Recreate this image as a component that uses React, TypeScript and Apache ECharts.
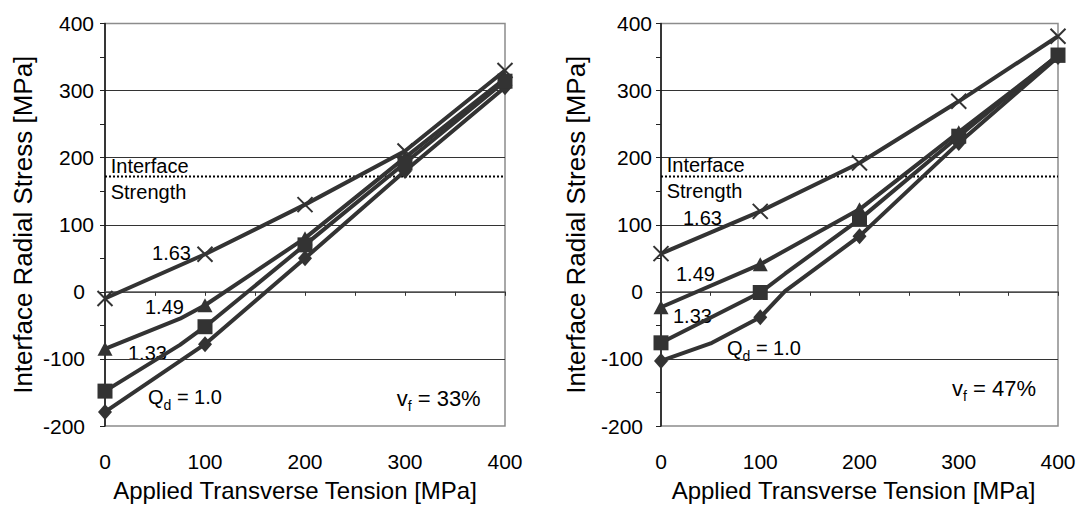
import React, { useEffect, useRef } from "react";
import * as echarts from "echarts";

// ---- data ----
const INTERFACE_STRENGTH = 172;
const X_MIN = 0;
const X_MAX = 400;
const Y_MIN = -200;
const Y_MAX = 400;

// vf = 33 %
const left_Q100: number[][] = [[0, -179], [100, -78], [200, 50], [300, 180], [400, 305]];
const left_Q133: number[][] = [[0, -148], [75, -79], [100, -52], [200, 70], [300, 192], [400, 314]];
const left_Q149: number[][] = [[0, -85], [75, -40], [100, -20], [200, 80], [300, 200], [400, 318]];
const left_Q163: number[][] = [[0, -10], [100, 56], [200, 130], [300, 210], [400, 330]];

// vf = 47 %
const right_Q100: number[][] = [[0, -103], [50, -77], [100, -38], [125, 1], [200, 83], [300, 222], [400, 350]];
const right_Q133: number[][] = [[0, -76], [100, -1], [125, 27], [200, 108], [300, 232], [400, 353]];
const right_Q149: number[][] = [[0, -23], [100, 41], [200, 123], [300, 238], [400, 352]];
const right_Q163: number[][] = [[0, 57], [100, 120], [200, 192], [300, 284], [400, 381]];

const X_TITLE = "Applied Transverse Tension [MPa]";
const Y_TITLE = "Interface Radial Stress [MPa]";

const FONT = "'Liberation Sans', Arial, sans-serif";
const INK = "#333333";

const CROSS = "path://M0,0L14,14M14,0L0,14";

function lineSeries(data: number[][], g: number, symbol: string, size: any, z: number) {
  return {
    type: "line",
    xAxisIndex: g * 2,
    yAxisIndex: g,
    data: data.map((p) => (p[0] % 100 === 0 ? p : { value: p, symbol: "none" })),
    symbol,
    symbolSize: size,
    lineStyle: { color: INK, width: 4 },
    itemStyle: symbol === CROSS
      ? { color: INK, borderColor: INK, borderWidth: 2 }
      : { color: INK },
    z,
    silent: true,
  };
}

function strengthSeries(g: number) {
  return {
    type: "line",
    xAxisIndex: g * 2,
    yAxisIndex: g,
    data: [[X_MIN, INTERFACE_STRENGTH], [X_MAX, INTERFACE_STRENGTH]],
    symbol: "none",
    lineStyle: { color: "#000", width: 2, type: "dotted" },
    z: 1,
    silent: true,
  };
}

function xAxes(g: number, titlePad: number) {
  return [
    {
      type: "value",
      gridIndex: g,
      min: X_MIN,
      max: X_MAX,
      interval: 100,
      position: "bottom",
      axisLine: { show: false, onZero: false },
      axisTick: { show: false },
      splitLine: { show: false },
      axisLabel: { fontSize: 21, color: "#000", fontFamily: FONT, margin: 25 },
      name: X_TITLE,
      nameLocation: "middle",
      nameGap: 52,
      nameTextStyle: { fontSize: 24, color: "#000", fontFamily: FONT, padding: [0, titlePad, 0, 0] },
    },
    {
      type: "value",
      gridIndex: g,
      min: X_MIN,
      max: X_MAX,
      interval: 100,
      position: "bottom",
      axisLine: { show: true, onZero: true, lineStyle: { color: "#555", width: 1.5 } },
      axisTick: { show: true, length: 4, lineStyle: { color: "#333", width: 1 } },
      minorTick: { show: true, splitNumber: 2, length: 4, lineStyle: { color: "#333", width: 1 } },
      axisLabel: { show: false },
      splitLine: { show: false },
    },
  ];
}

function yAxis(g: number, labelMargin: number, nameGap: number) {
  return {
    type: "value",
    gridIndex: g,
    min: Y_MIN,
    max: Y_MAX,
    interval: 100,
    axisLine: { show: true, onZero: false, lineStyle: { color: "#111", width: 1.5 } },
    axisTick: { show: true, length: 5, lineStyle: { color: "#222", width: 1 } },
    minorTick: { show: true, splitNumber: 2, length: 5, lineStyle: { color: "#222", width: 1 } },
    splitLine: { show: true, showMinLine: false, showMaxLine: false, lineStyle: { color: "#333", width: 1 } },
    axisLabel: {
      fontSize: 21,
      color: "#000",
      fontFamily: FONT,
      margin: labelMargin,
      formatter: (v: number) => (v <= 0 ? `{n|${v}}` : `${v}`),
      rich: { n: { fontSize: 21, color: "#000", fontFamily: FONT, padding: [0, 9, 0, 0] } },
    },
    name: Y_TITLE,
    nameLocation: "middle",
    nameGap,
    nameTextStyle: { fontSize: 26, color: "#000", fontFamily: FONT },
  };
}

function txt(x: number, y: number, text: string, align = "left") {
  return {
    type: "text",
    x,
    y,
    silent: true,
    style: {
      text,
      fontSize: 20,
      fontFamily: FONT,
      fill: "#000",
      align,
      textAlign: align,
      verticalAlign: "middle",
      textVerticalAlign: "middle",
    },
  };
}

function subTxt(x: number, y: number, main: string, sub: string, rest: string, size = 20) {
  const m = { fontSize: size, lineHeight: 30, fontFamily: FONT, fill: "#000", color: "#000" };
  const s = { fontSize: 14, lineHeight: 14, fontFamily: FONT, fill: "#000", color: "#000", verticalAlign: "bottom" };
  return {
    type: "text",
    x,
    y,
    silent: true,
    style: {
      text: `{m|${main}}{s|${sub}}{m|${rest}}`,
      rich: { m, s },
      align: "left",
      textAlign: "left",
      verticalAlign: "middle",
      textVerticalAlign: "middle",
    },
  };
}

export default function App() {
  const ref = useRef<HTMLDivElement>(null);

  useEffect(() => {
    if (!ref.current) return;
    const chart = echarts.init(ref.current, undefined, { renderer: "svg" });
    const option: any = {
      animation: false,
      backgroundColor: "#fff",
      grid: [
        { left: 105, right: 575, top: 23.5, bottom: 80, show: true, borderColor: "#8c8c8c", borderWidth: 1.5, backgroundColor: "transparent" },
        { left: 661, right: 22, top: 23.5, bottom: 80, show: true, borderColor: "#8c8c8c", borderWidth: 1.5, backgroundColor: "transparent" },
      ],
      xAxis: [...xAxes(0, 20), ...xAxes(1, 12)],
      yAxis: [yAxis(0, 11, 69), yAxis(1, 9, 72)],
      series: [
        strengthSeries(0),
        lineSeries(left_Q100, 0, "diamond", [14, 16], 3),
        lineSeries(left_Q149, 0, "triangle", [15, 14], 4),
        lineSeries(left_Q133, 0, "rect", 15, 5),
        lineSeries(left_Q163, 0, CROSS, 15, 6),
        strengthSeries(1),
        lineSeries(right_Q100, 1, "diamond", [14, 16], 3),
        lineSeries(right_Q149, 1, "triangle", [15, 14], 4),
        lineSeries(right_Q133, 1, "rect", 15, 5),
        lineSeries(right_Q163, 1, CROSS, 15, 6),
      ],
      graphic: [
        txt(110.7, 166, "Interface"),
        txt(110.7, 191.7, "Strength"),
        txt(191, 253.3, "1.63", "right"),
        txt(145, 307, "1.49"),
        txt(128, 353, "1.33"),
        subTxt(148, 396.7, "Q", "d", " = 1.0"),
        subTxt(396.7, 398, "v", "f", " = 33%", 22),
        txt(666.7, 165, "Interface"),
        txt(666.7, 190.7, "Strength"),
        txt(683, 218, "1.63"),
        txt(676, 274.3, "1.49"),
        txt(673, 315.7, "1.33"),
        subTxt(727, 348.3, "Q", "d", " = 1.0"),
        subTxt(952, 388, "v", "f", " = 47%", 22),
      ],
    };
    chart.setOption(option);
    return () => chart.dispose();
  }, []);

  return (
    <div
      ref={ref}
      style={{ position: "fixed", left: 0, top: 0, width: 1080, height: 507, background: "#fff" }}
    />
  );
}
